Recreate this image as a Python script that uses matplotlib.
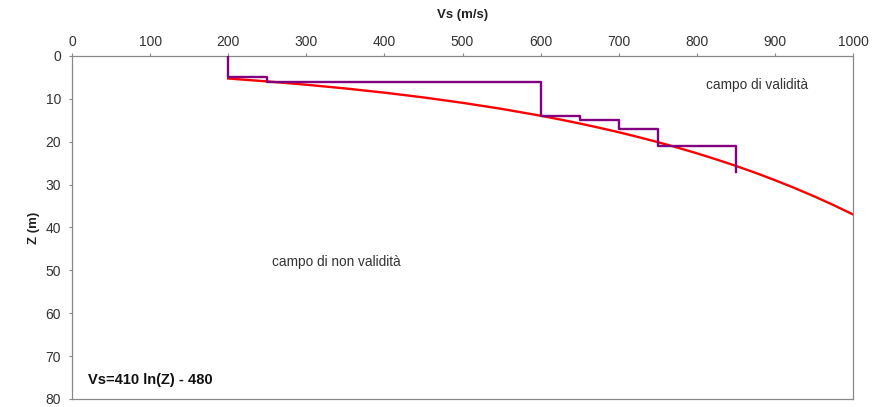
import matplotlib
matplotlib.use("Agg")
import matplotlib.pyplot as plt

# Regression curve Vs = 410 ln(Z) - 480
curve_vs = [200, 250, 300, 350, 400, 450, 500, 550, 600, 625, 650, 675, 700, 725, 750, 775,
            800, 825, 850, 875, 900, 925, 950, 975, 1000]
curve_z = [5.25, 5.93, 6.70, 7.57, 8.55, 9.66, 10.92, 12.33, 13.93, 14.81, 15.74, 16.73, 17.78,
           18.90, 20.09, 21.35, 22.69, 24.12, 25.63, 27.24, 28.96, 30.78, 32.71, 34.77, 36.96]

# Step profile
step_vs = [200, 200, 250, 250, 600, 600, 650, 650, 700, 700, 750, 750, 850, 850]
step_z = [0, 5, 5, 6, 6, 14, 14, 15, 15, 17, 17, 21, 21, 27]

x_ticks = [0, 100, 200, 300, 400, 500, 600, 700, 800, 900, 1000]
y_ticks = [0, 10, 20, 30, 40, 50, 60, 70, 80]

plt.rcParams['font.family'] = ['Liberation Sans', 'DejaVu Sans']

fig = plt.figure(figsize=(8.81, 4.07), dpi=100)
ax = fig.add_axes([72/881, 1 - 399/407, (853-72)/881, (399-56)/407])

ax.plot(curve_vs, curve_z, color='#FF0000', lw=1.7, zorder=2)
ax.plot(step_vs, step_z, color='#800080', lw=1.7, zorder=3)

ax.set_xlim(0, 1000)
ax.set_ylim(80, 0)
ax.xaxis.set_ticks_position('top')
ax.xaxis.set_label_position('top')
ax.set_xticks(x_ticks)
ax.set_yticks(y_ticks)
ax.tick_params(axis='both', labelsize=10, colors='#888888', labelcolor='#333333', length=2.5, width=0.8)
ax.tick_params(axis='x', pad=2.2)
ax.tick_params(axis='y', pad=5.5)
for s in ax.spines.values():
    s.set_color('#888888')
    s.set_linewidth(0.9)

ax.set_xlabel('Vs (m/s)', fontsize=9.5, fontweight='bold', labelpad=12.5, color='#222222')
ax.set_ylabel('Z (m)', fontsize=9.5, fontweight='bold', labelpad=4, color='#222222')

ax.text(877, 6.8, 'campo di validità', fontsize=9.8, ha='center', va='center', color='#333333')
ax.text(338, 48, 'campo di non validità', fontsize=9.8, ha='center', va='center', color='#333333')
ax.text(20.5, 75.5, 'Vs=410 ln(Z) - 480', fontsize=10.5, fontweight='bold', ha='left', va='center', color='#111111')

fig.savefig('out.png', dpi=100)
